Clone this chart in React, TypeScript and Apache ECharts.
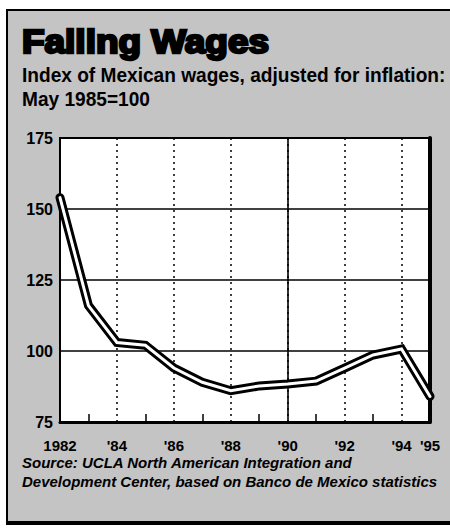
import React, { useEffect, useRef } from 'react';
import * as echarts from 'echarts';

const years = ['1982', '1983', '1984', '1985', '1986', '1987', '1988', '1989', '1990', '1991', '1992', '1993', '1994', '1995'];
const wageIndex = [154, 116, 103, 102, 94, 89, 86, 87.7, 88.4, 89.4, 94, 98.6, 100.7, 84];
const yTicks = { min: 75, max: 175, step: 25 };
const titleText = 'Falling Wages';
const subtitleLines = ['Index of Mexican wages, adjusted for inflation:', 'May 1985=100'];
const sourceLines = ['Source: UCLA North American Integration and', 'Development Center, based on Banco de Mexico statistics'];

const FONT = '"Liberation Sans", Arial, Helvetica, sans-serif';

function yearLabel(v: string): string {
  if (v === '1982') return '1982';
  return "'" + v.slice(2);
}

export default function App() {
  const ref = useRef<HTMLDivElement>(null);
  useEffect(() => {
    document.body.style.margin = '0';
    const chart = echarts.init(ref.current!, null, { renderer: 'svg' });
    const lastIdx = years.length - 1;
    chart.setOption({
      animation: false,
      backgroundColor: '#ffffff',
      grid: {
        left: 60,
        right: 20,
        top: 138,
        bottom: 106,
        show: true,
        backgroundColor: '#ffffff',
        borderColor: '#000',
        borderWidth: 2,
      },
      xAxis: {
        type: 'category',
        data: years,
        boundaryGap: false,
        axisLine: { show: true, lineStyle: { color: '#000', width: 3 } },
        axisTick: {
          show: true,
          inside: true,
          length: 8,
          lineStyle: { color: '#000', width: 1.5 },
          interval: (i: number) => i % 2 === 1 && i !== lastIdx,
        },
        axisLabel: {
          interval: (i: number) => i % 2 === 0 || i === lastIdx,
          formatter: (v: string) => yearLabel(v),
          color: '#000',
          fontFamily: FONT,
          fontWeight: 'bold',
          fontSize: 15,
          margin: 16,
        },
        splitLine: {
          show: true,
          interval: (i: number) => i % 2 === 0 && i > 0 && i < lastIdx,
          lineStyle: { color: '#000', width: 1.5, type: [2, 4] },
        },
      },
      yAxis: [
        {
          type: 'value',
          min: yTicks.min,
          max: yTicks.max,
          interval: yTicks.step,
          axisLine: { show: true, lineStyle: { color: '#000', width: 2 } },
          axisTick: { show: false },
          axisLabel: {
            color: '#000',
            fontFamily: FONT,
            fontWeight: 'bold',
            fontSize: 16,
            margin: 7,
          },
          splitLine: { show: true, lineStyle: { color: '#000', width: 1.6 } },
        },
        {
          type: 'value',
          position: 'right',
          min: yTicks.min,
          max: yTicks.max,
          interval: yTicks.step,
          axisLine: { show: true, lineStyle: { color: '#000', width: 4 } },
          axisTick: { show: false },
          axisLabel: { show: false },
          splitLine: { show: false },
        },
      ],
      series: [
        {
          type: 'line',
          data: wageIndex,
          symbol: 'none',
          lineStyle: { color: '#000', width: 9, join: 'miter', cap: 'round' },
          z: 3,
          markLine: {
            silent: true,
            symbol: 'none',
            label: { show: false },
            lineStyle: { color: '#000', width: 1.6, type: 'solid' },
            data: [{ xAxis: '1990' }],
            z: 1,
          },
        },
        {
          type: 'line',
          data: wageIndex,
          symbol: 'none',
          lineStyle: { color: '#fff', width: 3, join: 'miter', cap: 'round' },
          z: 4,
        },
      ],
      graphic: [
        {
          type: 'rect',
          z: -100,
          shape: { x: 7, y: 10, width: 460, height: 513 },
          style: { fill: '#c4c4c4', stroke: '#000', lineWidth: 2 },
        },
        {
          type: 'line',
          z: -90,
          shape: { x1: 6, y1: 523, x2: 452, y2: 523 },
          style: { stroke: '#000', lineWidth: 4 },
        },
        {
          type: 'text',
          z: 10,
          x: 22,
          y: 25,
          scaleX: 1.12,
          style: {
            text: titleText,
            fontFamily: FONT,
            fontWeight: 'bold',
            fontSize: 33,
            fill: '#000',
            stroke: '#000',
            lineWidth: 2.5,
          },
        },
        {
          type: 'text',
          z: 10,
          x: 22,
          y: 63,
          scaleX: 0.91,
          style: {
            text: subtitleLines.join('\n'),
            fontFamily: FONT,
            fontWeight: 'bold',
            fontSize: 21,
            lineHeight: 24,
            fill: '#000',
          },
        },
        {
          type: 'text',
          z: 10,
          x: 22,
          y: 453,
          style: {
            text: sourceLines.join('\n'),
            fontFamily: FONT,
            fontWeight: 'bold',
            fontStyle: 'italic',
            fontSize: 15,
            lineHeight: 19,
            fill: '#000',
          },
        },
      ],
    });
    return () => chart.dispose();
  }, []);
  return <div ref={ref} style={{ width: 450, height: 528 }} />;
}
